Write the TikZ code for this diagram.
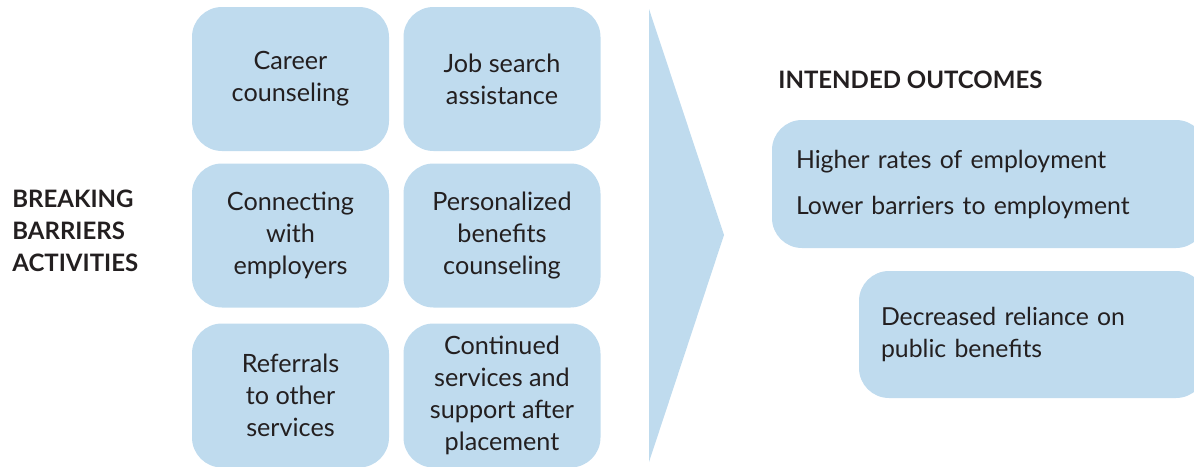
\documentclass[tikz,border=0pt]{standalone}
\usepackage{fontspec}
\setmainfont{Lato}
\usetikzlibrary{positioning}
\definecolor{boxblue}{RGB}{191,219,238}
\definecolor{inkgray}{RGB}{35,31,32}
\tikzset{
    activity/.style={fill=boxblue, rounded corners=15pt, minimum width=98.5pt, minimum height=72pt,
        inner sep=0pt, align=center, text=inkgray, font=\fontsize{12.6}{16}\selectfont},
    outcome/.style={fill=boxblue, rounded corners=15pt, inner ysep=0pt, align=left,
        text=inkgray, font=\fontsize{12.4}{16}\selectfont},
    heading/.style={anchor=west, inner sep=0pt, align=left, text=inkgray,
        font=\bfseries\fontsize{12}{16}\selectfont}
}

\begin{document}
\begin{tikzpicture}[x=0.5pt, y=-0.5pt]
    \useasboundingbox (0,0) rectangle (1194,466);
    % activities
    \node[heading] (barriers) at (12,231) {BREAKING\\BARRIERS\\ACTIVITIES};
    \node[activity] (career) at (290.5,79) {Career\\counseling};
    \node[activity] (jobsearch) at (502,79) {Job search\\assistance};
    \node[activity] (employers) at (290.5,235.5) {Connecting\\with\\employers};
    \node[activity] (benefits) at (502,235.5) {Personalized\\benefits\\counseling};
    \node[activity] (referrals) at (290.5,395.5) {Referrals\\to other\\services};
    \node[activity] (continued) at (502,395.5) {Continued\\services and\\support after\\placement};
    % arrow
    \fill[boxblue] (649,9) -- (724,235) -- (649,462) -- cycle;
    % outcomes
    \node[heading] (outcomes) at (778,80) {INTENDED OUTCOMES};
    \node[outcome, minimum width=217pt, minimum height=64pt, inner xsep=12pt, text width=193pt]
        (employment) at (989,184) {Higher rates of employment\\[7pt]Lower barriers to employment};
    \node[outcome, minimum width=173.5pt, minimum height=63.5pt, inner xsep=11pt, text width=151.5pt]
        (reliance) at (1032.5,334.5) {Decreased reliance on\\public benefits};
\end{tikzpicture}
\end{document}
